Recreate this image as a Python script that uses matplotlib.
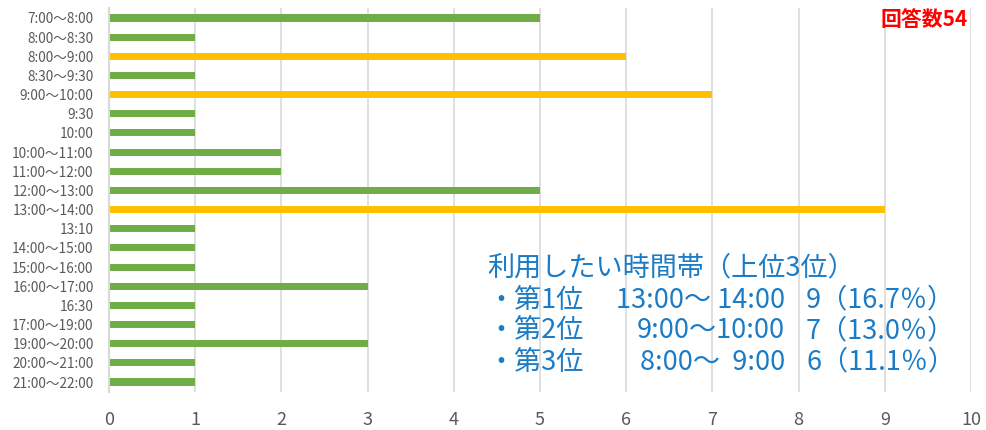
import numpy as np
import matplotlib.pyplot as plt

plt.rcParams['font.family'] = ['Noto Sans CJK JP', 'DejaVu Sans']

# 時間帯と回答数
slots = ['7:00～8:00', '8:00～8:30', '8:00～9:00', '8:30～9:30', '9:00～10:00',
         '9:30', '10:00', '10:00～11:00', '11:00～12:00', '12:00～13:00',
         '13:00～14:00', '13:10', '14:00～15:00', '15:00～16:00', '16:00～17:00',
         '16:30', '17:00～19:00', '19:00～20:00', '20:00～21:00', '21:00～22:00']
counts = [5, 1, 6, 1, 7, 1, 1, 2, 2, 5, 9, 1, 1, 1, 3, 1, 1, 3, 1, 1]
top3 = ['13:00～14:00', '9:00～10:00', '8:00～9:00']
total = 54

green = '#70AD47'
yellow = '#FFC000'
colors = [yellow if s in top3 else green for s in slots]

fig = plt.figure(figsize=(9.86, 4.30), dpi=100)
ax = fig.add_axes([0.1105, 0.0893, 0.8743, 0.8912])

y = np.arange(len(slots))
ax.barh(y, counts, height=0.37, color=colors, zorder=3)
ax.set_ylim(len(slots) - 0.5, -0.5)
ax.set_xlim(0, 10)
ax.set_xticks(range(0, 11))
ax.set_yticks(y)
ax.set_yticklabels(slots, fontsize=9.8, color='#595959')
ax.tick_params(axis='x', labelsize=13, colors='#595959', length=0, pad=14)
ax.tick_params(axis='y', length=0, pad=11)
ax.grid(axis='x', color='#d9d9d9', linewidth=1.2, zorder=0)
for s in ['top', 'right', 'bottom']:
    ax.spines[s].set_visible(False)
ax.spines['left'].set_color('#d9d9d9')
ax.spines['left'].set_linewidth(1.5)
ax.spines['left'].set_zorder(4)

# 回答数
fig.text(968 / 986, 1 - 19 / 430, '回答数%d' % total, color='#FF0000',
         fontsize=15, fontweight='bold', ha='right', va='center')

# 上位3位のまとめ
blue = '#1A7BC6'
fs = 19.5
fig.text(487 / 986, 1 - 268 / 430, '利用したい時間帯（上位3位）', color=blue,
         fontsize=fs, va='center', ha='left')
ranks = ['・第1位', '・第2位', '・第3位']
times = ['13:00～ 14:00', '9:00～10:00', '8:00～  9:00']
ys = [300, 331, 362]
for r, t, s, yy in zip(ranks, times, top3, ys):
    n = counts[slots.index(s)]
    fig.text(487 / 986, 1 - yy / 430, r, color=blue, fontsize=fs, va='center', ha='left')
    fig.text(785 / 986, 1 - yy / 430, t, color=blue, fontsize=fs, va='center', ha='right')
    fig.text(955 / 986, 1 - yy / 430, '%d（%.1f％）' % (n, n / total * 100),
             color=blue, fontsize=fs, va='center', ha='right')

fig.savefig('out.png', dpi=100)
